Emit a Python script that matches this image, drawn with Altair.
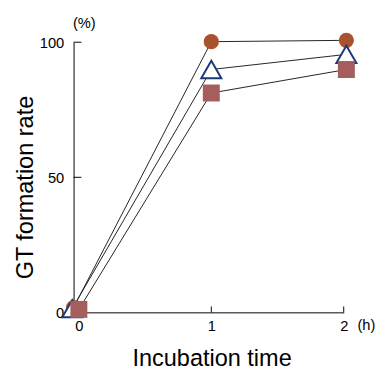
import altair as alt
import pandas as pd

# Series values (time in h, GT formation rate in %)
circle_t = [-0.04, 1.0, 2.02]
circle_v = [1.8, 100.2, 100.7]
triangle_t = [-0.05, 1.0, 2.02]
triangle_v = [1.4, 89.9, 95.5]
square_t = [0.0, 1.0, 2.02]
square_v = [1.1, 81.2, 89.9]

x_ticks = [0, 1, 2]
y_ticks = [0, 50, 100]
x_tick_marks = [1, 2]
y_tick_marks = [50, 100]

df_c = pd.DataFrame({"series": "circle", "t": circle_t, "v": circle_v})
df_t = pd.DataFrame({"series": "triangle", "t": triangle_t, "v": triangle_v})
df_s = pd.DataFrame({"series": "square", "t": square_t, "v": square_v})
df = pd.concat([df_c, df_t, df_s], ignore_index=True)

FONT = "Liberation Sans"
xscale = alt.Scale(domain=[-0.04, 2.0], nice=False, zero=False)
yscale = alt.Scale(domain=[0, 100], nice=False)

xaxis = alt.Axis(
    values=x_ticks, labelExpr="format(datum.value, '.0f')", title="Incubation time",
    grid=False, ticks=False, tickSize=0,
    labelOverlap=False, labelFlush=False, labelBound=False,
    labelPadding=7, labelFontSize=15, labelFont=FONT, labelColor="black",
    domainColor="black", domainWidth=1,
    titleFont=FONT, titleFontSize=24, titleFontWeight="normal", titleColor="black",
    titleX=141, titleY=54, titleAlign="center", titleBaseline="alphabetic")
yaxis = alt.Axis(
    values=y_ticks, labelExpr="format(datum.value, '.0f')", title="GT formation rate",
    grid=False, ticks=False, tickSize=0,
    labelOverlap=False, labelFlush=False, labelBound=False,
    labelPadding=10, labelFontSize=15, labelFont=FONT, labelColor="black",
    domainColor="black", domainWidth=1,
    titleFont=FONT, titleFontSize=24, titleFontWeight="normal", titleColor="black",
    titleAngle=270, titleX=-42, titleY=148, titleAlign="center",
    titleBaseline="alphabetic")

X = alt.X("t:Q", scale=xscale, axis=xaxis, title="Incubation time")
Y = alt.Y("v:Q", scale=yscale, axis=yaxis, title="GT formation rate")

lines = alt.Chart(df).mark_line(color="#222222", strokeWidth=1).encode(
    x=X, y=Y, detail="series:N",
)

circles = alt.Chart(df_c).mark_point(
    shape="circle", filled=True, fill="#A8532E", stroke="#A8532E",
    strokeWidth=0, size=240, opacity=1
).encode(x=X, y=Y)
triangles = alt.Chart(df_t).mark_point(
    shape="triangle-up", filled=False, fill="#FFFFFF", fillOpacity=1,
    stroke="#1B3A78", strokeWidth=2, size=420, opacity=1
).encode(x=X, y=Y)
squares = alt.Chart(df_s).mark_point(
    shape="square", filled=True, fill="#A65D5D", stroke="#A65D5D",
    strokeWidth=0, size=300, opacity=1
).encode(x=X, y=Y)

ytick_df = pd.DataFrame({"v": y_tick_marks})
yticks = alt.Chart(ytick_df).mark_rule(color="black", strokeWidth=1).encode(
    y=Y, x=alt.value(0), x2=alt.value(8),
)
xtick_df = pd.DataFrame({"t": x_tick_marks})
xticks = alt.Chart(xtick_df).mark_rule(color="black", strokeWidth=1).encode(
    x=X, y=alt.value(276), y2=alt.value(270),
)

pct = alt.Chart(pd.DataFrame({"s": ["(%)"]})).mark_text(
    font=FONT, fontSize=15, align="center", baseline="middle", color="black"
).encode(x=alt.value(11), y=alt.value(-20), text="s:N")
hrs = alt.Chart(pd.DataFrame({"s": ["(h)"]})).mark_text(
    font=FONT, fontSize=15, align="left", baseline="middle", color="black"
).encode(x=alt.value(290), y=alt.value(289), text="s:N")

chart = alt.layer(lines, yticks, xticks, circles, triangles, squares, pct, hrs).properties(
    width=276, height=276,
    padding={"left": 67, "top": 31, "right": 34, "bottom": 59},
    autosize=alt.AutoSizeParams(type="none"),
).configure(background="white").configure_view(stroke=None)

chart.save("out.html", embed_options={"renderer": "svg", "actions": False})
